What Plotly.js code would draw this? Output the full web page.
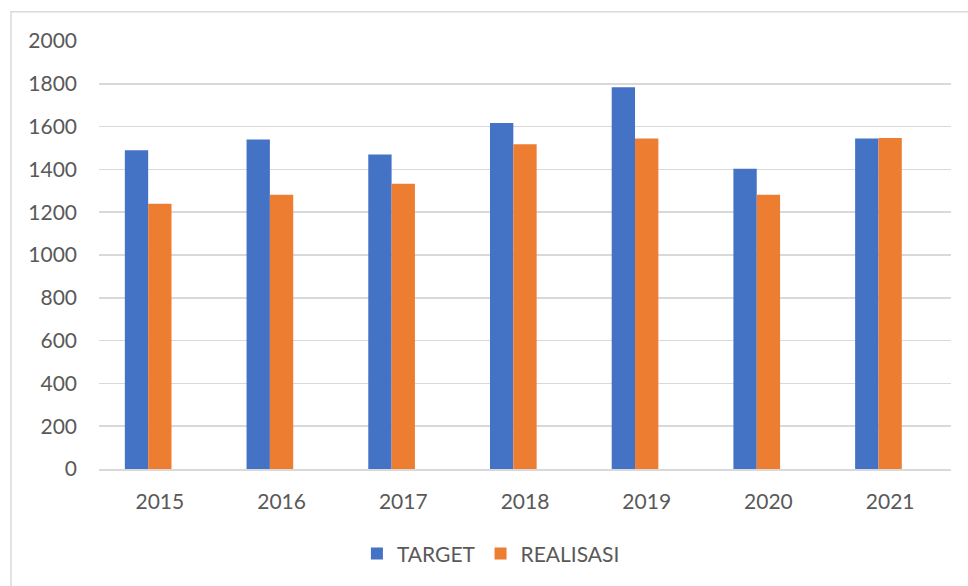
<!DOCTYPE html>
<html>
<head>
<meta charset="utf-8">
<script src="https://cdn.plot.ly/plotly-3.0.1.min.js"></script>
<style>html,body{margin:0;padding:0;background:#fff;}#chart{width:968px;height:586px;}</style>
</head>
<body>
<div id="chart"></div>
<script>
const years = ["2015", "2016", "2017", "2018", "2019", "2020", "2021"];
const target = [1490, 1540, 1470, 1617, 1784, 1403, 1544];
const realisasi = [1240, 1282, 1333, 1518, 1544, 1282, 1547];
const yTicks = [0, 200, 400, 600, 800, 1000, 1200, 1400, 1600, 1800, 2000];

const textColor = "#595959";
const gridColor = "#d9d9d9";
const fontFamily = "Lato, 'Liberation Sans', sans-serif";

const barW = 0.1917;
const traces = [
  {
    type: "bar", name: "TARGET", x: years, y: target,
    marker: {color: "#4472C4"},
    width: barW, offset: -0.2877
  },
  {
    type: "bar", name: "REALISASI", x: years, y: realisasi,
    marker: {color: "#ED7D31"},
    width: barW, offset: -0.2877 + barW
  }
];

const layout = {
  width: 968, height: 586,
  margin: {l: 99, r: 17, t: 41, b: 115},
  paper_bgcolor: "#ffffff", plot_bgcolor: "#ffffff",
  font: {family: fontFamily, size: 21, color: textColor},
  showlegend: true,
  legend: {
    orientation: "h", x: 0.46, xanchor: "center", y: -0.198, yanchor: "middle",
    font: {family: fontFamily, size: 21, color: textColor},
    traceorder: "normal", itemwidth: 30
  },
  xaxis: {
    type: "category", showgrid: false, zeroline: false, showline: true,
    linecolor: gridColor, linewidth: 1.5, ticks: "", ticklabelstandoff: 13,
    tickfont: {family: fontFamily, size: 21, color: textColor}
  },
  yaxis: {
    range: [0, 2000], tickmode: "array", tickvals: yTicks, ticktext: yTicks.map(String),
    showgrid: true, gridcolor: gridColor, gridwidth: 1.5, zeroline: false,
    showline: false, ticks: "", ticklabelstandoff: 21,
    tickfont: {family: fontFamily, size: 21, color: textColor}
  },
  shapes: [{
    type: "rect", xref: "paper", yref: "paper",
    x0: -0.1033, x1: 1.05, y0: -0.30, y1: 1.0686,
    line: {color: gridColor, width: 1.5}, fillcolor: "rgba(0,0,0,0)", layer: "below"
  }]
};

Plotly.newPlot("chart", traces, layout, {displayModeBar: false, staticPlot: true});
</script>
</body>
</html>
